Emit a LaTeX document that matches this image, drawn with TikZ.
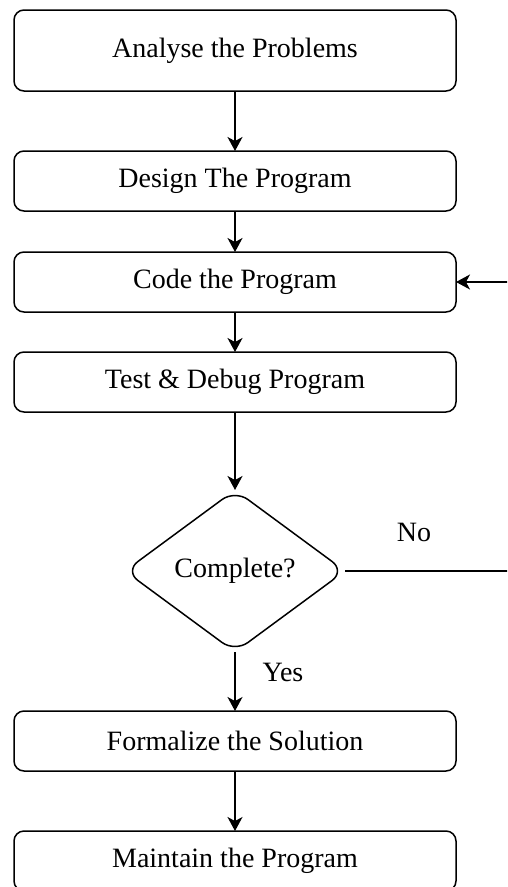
\documentclass[tikz,border=0pt]{standalone}
\usepackage{fontspec}
\setmainfont{Liberation Serif}
\usetikzlibrary{positioning,shapes.geometric,arrows.meta}
\tikzset{>={Stealth[length=14pt,width=15pt,inset=4pt]}}
\tikzset{ stepbox/.style={draw, rounded corners=10pt, outer sep=0pt, minimum width=442pt, minimum height=60pt, font=\fontsize{28}{34}\selectfont}}
\tikzset{ decision/.style={draw, diamond, rounded corners=16pt, outer sep=0pt, minimum width=220pt, minimum height=162pt, inner sep=0pt, font=\fontsize{28}{34}\selectfont}}
\tikzset{ flowlabel/.style={font=\fontsize{28}{34}\selectfont}}

\begin{document}
\begin{tikzpicture}[x=1pt,y=1pt,line width=1.5pt]
  \useasboundingbox (0,0) rectangle (507,-887);
  \clip (0,0) rectangle (507,-887);
  % steps
  \node[stepbox,minimum height=81pt] (analyse) at (235,-50.5) {Analyse the Problems};
  \node[stepbox,below=60pt of analyse] (design) {Design The Program};
  \node[stepbox,below=41pt of design] (code) {Code the Program};
  \node[stepbox,below=40pt of code] (test) {Test \& Debug Program};
  \node[decision,below=78pt of test] (complete) {Complete?};
  \node[stepbox,below=59pt of complete] (formalize) {Formalize the Solution};
  \node[stepbox,below=60pt of formalize] (maintain) {Maintain the Program};
  % arrows
  \draw[->] (analyse) -- (design);
  \draw[->] (design) -- (code);
  \draw[->] (code) -- (test);
  \draw[->] (test) -- (complete);
  \draw[->] (complete) -- (formalize);
  \draw[->] (formalize) -- (maintain);
  % back to coding when not complete
  \path (complete.east) ++(170,0) coordinate (noend);
  \path (code.east) ++(60,0) coordinate (backin);
  \draw (complete.east) -- (noend);
  \draw[->] (backin) -- (code.east);
  % labels
  \node[flowlabel] (nolabel) at (414,-532) {No};
  \node[flowlabel] (yeslabel) at (283,-672) {Yes};
\end{tikzpicture}
\end{document}
